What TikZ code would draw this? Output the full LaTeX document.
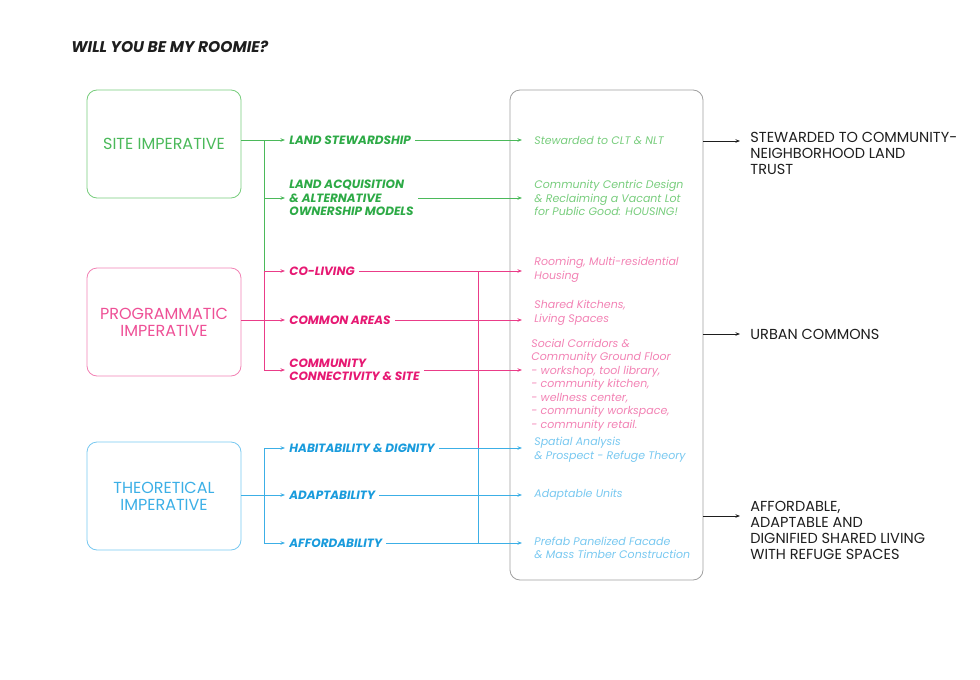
\documentclass[tikz,border=0pt]{standalone}
\usepackage{fontspec}
\setmainfont{Poppins}
\usetikzlibrary{arrows.meta, positioning}
\definecolor{greenlbl}{RGB}{45, 170, 70}
\definecolor{greenmid}{RGB}{75, 185, 90}
\definecolor{greenlt}{RGB}{120, 205, 125}
\definecolor{pinklbl}{RGB}{230, 25, 115}
\definecolor{pinkmid}{RGB}{238, 80, 150}
\definecolor{pinklt}{RGB}{242, 130, 180}
\definecolor{bluelbl}{RGB}{25, 155, 220}
\definecolor{bluemid}{RGB}{60, 175, 230}
\definecolor{bluelt}{RGB}{120, 200, 240}
\definecolor{hubgray}{RGB}{160, 160, 160}
\definecolor{inkdark}{RGB}{30, 30, 30}

\begin{document}
\begin{tikzpicture}[x=1pt, y=-1pt, line width=0.8pt,
    imp/.style={draw, rounded corners=10pt, minimum width=154pt, minimum height=108pt, align=center, font=\fontsize{16}{17}\selectfont},
    lbl/.style={anchor=west, align=left, inner xsep=4pt, inner ysep=0pt, font=\fontsize{12}{13.5}\selectfont\bfseries\itshape},
    res/.style={anchor=west, align=left, inner sep=0pt, font=\fontsize{11}{13.5}\selectfont\itshape},
    outc/.style={anchor=west, align=left, inner sep=0pt, text=inkdark, font=\fontsize{14.5}{16}\selectfont},
    gline/.style={draw=greenmid},
    pline/.style={draw=pinklbl!85},
    bline/.style={draw=bluemid},
    tip/.style={-{Stealth[length=4.5pt, width=3.5pt]}}]
  \useasboundingbox (0,0) rectangle (980,680);

  % title
  \node[anchor=west, inner sep=0pt, text=inkdark, font=\fontsize{15.5}{17}\selectfont\bfseries\itshape] (title) at (71,47) {WILL YOU BE MY ROOMIE?};

  % imperatives
  \node[imp, draw=greenlt, text=greenmid] (site) at (164,144) {SITE IMPERATIVE};
  \node[imp, draw=pinklt, text=pinkmid] (prog) at (164,322) {PROGRAMMATIC\\IMPERATIVE};
  \node[imp, draw=bluelt, text=bluemid] (theo) at (164,496) {THEORETICAL\\IMPERATIVE};

  % central box
  \node[draw=hubgray, rounded corners=10pt, minimum width=193pt, minimum height=490pt] (hub) at (606.5,335) {};

  % strategies
  \node[lbl, text=greenlbl] (ls) at (285,140) {LAND STEWARDSHIP};
  \node[lbl, text=greenlbl] (la) at (285,198) {LAND ACQUISITION\\\& ALTERNATIVE\\OWNERSHIP MODELS};
  \node[lbl, text=pinklbl] (cl) at (285,271) {CO-LIVING};
  \node[lbl, text=pinklbl] (ca) at (285,320) {COMMON AREAS};
  \node[lbl, text=pinklbl] (cc) at (285,370) {COMMUNITY\\CONNECTIVITY \& SITE};
  \node[lbl, text=bluelbl] (hd) at (285,448) {HABITABILITY \& DIGNITY};
  \node[lbl, text=bluelbl] (ad) at (285,495) {ADAPTABILITY};
  \node[lbl, text=bluelbl] (af) at (285,543) {AFFORDABILITY};

  % responses
  \node[res, text=greenlt] (r1) at (534,140) {Stewarded to CLT \& NLT};
  \node[res, text=greenlt] (r2) at (534,198) {Community Centric Design\\\& Reclaiming a Vacant Lot\\for Public Good: HOUSING!};
  \node[res, text=pinklt] (r3) at (534,270) {Rooming, Multi-residential\\Housing};
  \node[res, text=pinklt] (r4) at (534,313) {Shared Kitchens,\\Living Spaces};
  \node[res, text=pinklt] (r5) at (531,385) {Social Corridors \&\\Community Ground Floor\\- workshop, tool library,\\- community kitchen,\\- wellness center,\\- community workspace,\\- community retail.};
  \node[res, text=bluelt] (r6) at (534,450) {Spatial Analysis\\\& Prospect - Refuge Theory};
  \node[res, text=bluelt] (r7) at (534,495) {Adaptable Units};
  \node[res, text=bluelt] (r8) at (534,548) {Prefab Panelized Facade\\\& Mass Timber Construction};

  % outcomes
  \node[outc] (o1) at (750,153) {STEWARDED TO COMMUNITY-\\NEIGHBORHOOD LAND\\TRUST};
  \node[outc] (o2) at (750,334) {URBAN COMMONS};
  \node[outc] (o3) at (750,530) {AFFORDABLE,\\ADAPTABLE AND\\DIGNIFIED SHARED LIVING\\WITH REFUGE SPACES};

  % bus positions
  \coordinate (lb) at (264,0);
  \coordinate (mb) at (478,0);
  \coordinate (rx) at (522,0);

  % site branch
  \draw[gline, tip] (site.east |- ls.west) -- (ls.west);
  \draw[gline] (lb |- ls.west) -- (lb |- cl.west);
  \draw[gline, tip] (lb |- la.west) -- (la.west);
  \draw[gline, tip] (ls.east) -- (rx |- ls.east);
  \draw[gline, tip] (la.east) -- (rx |- la.east);

  % programmatic branch
  \draw[pline] (lb |- cl.west) -- (lb |- cc.west);
  \draw[pline, tip] (lb |- cl.west) -- (cl.west);
  \draw[pline, tip] (prog.east |- ca.west) -- (ca.west);
  \draw[pline, tip] (lb |- cc.west) -- (cc.west);
  \draw[pline, tip] (cl.east) -- (rx |- cl.east);
  \draw[pline, tip] (ca.east) -- (rx |- ca.east);
  \draw[pline, tip] (cc.east) -- (rx |- cc.east);
  \draw[pline] (mb |- cl.east) -- (mb |- hd.east);

  % theoretical branch
  \draw[bline] (lb |- hd.west) -- (lb |- af.west);
  \draw[bline, tip] (lb |- hd.west) -- (hd.west);
  \draw[bline, tip] (theo.east |- ad.west) -- (ad.west);
  \draw[bline, tip] (lb |- af.west) -- (af.west);
  \draw[bline, tip] (hd.east) -- (rx |- hd.east);
  \draw[bline, tip] (ad.east) -- (rx |- ad.east);
  \draw[bline, tip] (af.east) -- (rx |- af.east);
  \draw[bline] (mb |- hd.east) -- (mb |- af.east);

  % outcome arrows
  \coordinate (e1) at (740,141);
  \coordinate (e2) at (740,334);
  \coordinate (e3) at (740,516);
  \draw[inkdark, tip] (hub.east |- e1) -- (e1);
  \draw[inkdark, tip] (hub.east |- e2) -- (e2);
  \draw[inkdark, tip] (hub.east |- e3) -- (e3);
\end{tikzpicture}
\end{document}
